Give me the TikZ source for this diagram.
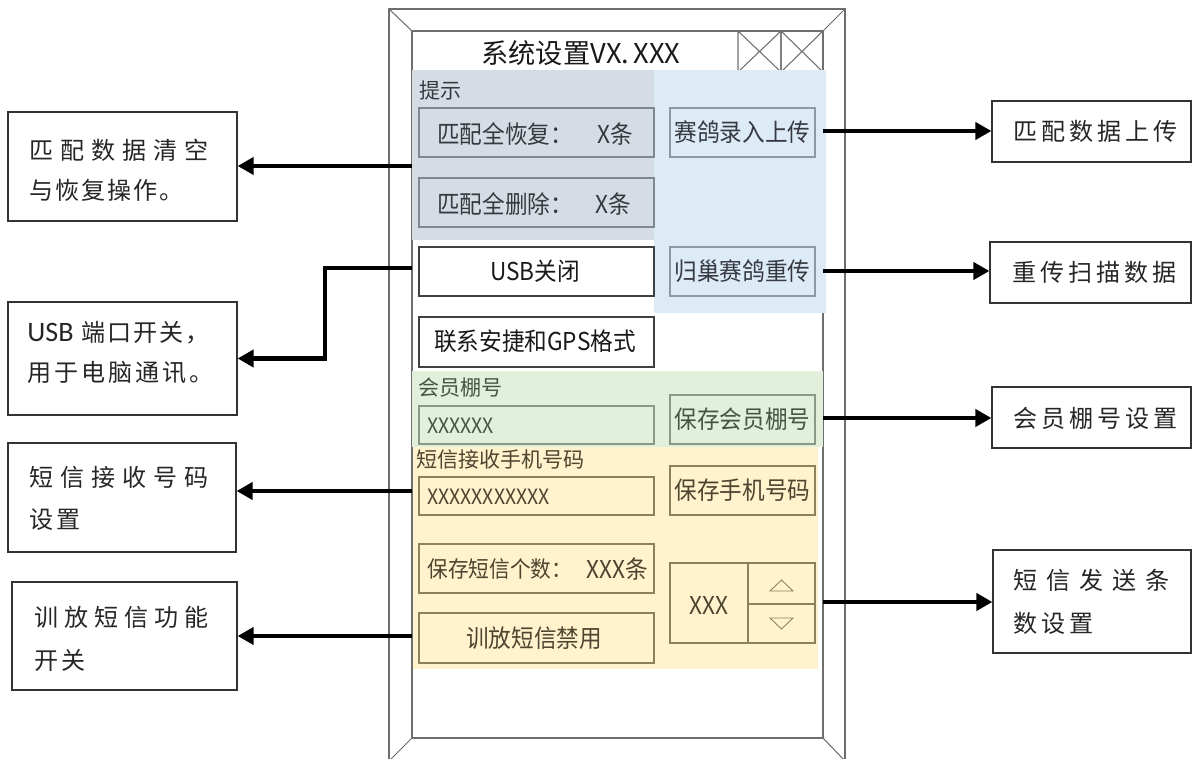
\documentclass[tikz,border=0pt]{standalone}
\usepackage{fontspec}
\setmainfont{Noto Sans CJK SC}
\newfontfamily\uifont{Noto Sans CJK SC}[FakeStretch=0.92]
\newfontfamily\carlito{Carlito}
\usetikzlibrary{arrows.meta}
\newdimen\pxu \pxu=0.02cm
\newcommand\spr[2]{\def\sprgap{#1}\sprloop#2\relax}
\def\sprloop#1{\ifx\relax#1\else#1\kern\sprgap\pxu\expandafter\sprloop\fi}
\newcommand\rbox[6]{\node[#1, minimum width={(#5-#3)*0.02cm}, minimum height={(#6-#4)*0.02cm}] (#2) at ({(#3+#5)/2},{(#4+#6)/2}) {};}
\definecolor{greyreg}{HTML}{D6DCE4}
\definecolor{bluereg}{HTML}{DDEBF7}
\definecolor{greenreg}{HTML}{E2EFDA}
\definecolor{yelreg}{HTML}{FFF2CC}
\definecolor{frameclr}{HTML}{6E6E6E}
\definecolor{greybd}{HTML}{7F8791}
\definecolor{bluebd}{HTML}{8C9AA6}
\definecolor{greenbd}{HTML}{8A9A82}
\definecolor{yelbd}{HTML}{8E805C}
\definecolor{greytx}{HTML}{363A40}
\definecolor{greentx}{HTML}{47543F}
\definecolor{yeltx}{HTML}{4D4530}
\begin{document}
\begin{tikzpicture}[x=0.02cm, y=-0.02cm,
  frm/.style={draw=frameclr, line width=0.6pt},
  lbl/.style={draw=black!80, line width=0.7pt, rectangle, inner sep=0},
  lbltx/.style={inner sep=0, anchor=west, font=\fontsize{13.7pt}{16pt}\selectfont, text=black!85},
  arr/.style={line width=2.3pt, -{Triangle[length=0.32cm,width=0.34cm]}},
  btn/.style={rectangle, inner sep=0, line width=0.6pt, draw=#1},
  btntx/.style={inner sep=0, font=\uifont\fontsize{14pt}{16pt}\selectfont, text=#1},
  uilb/.style={inner sep=0, anchor=west, font=\fontsize{12pt}{14pt}\selectfont, text=#1},
  xtx/.style={inner sep=0, anchor=west, font=\uifont\fontsize{12pt}{14pt}\selectfont, text=#1}
]
\useasboundingbox (0,0) rectangle (1194,759);
% phone frame
\draw[frm] (389,9) rectangle (845,761);
\draw[frm] (412,31) rectangle (823,738);
\draw[frm] (389,9) -- (412,31);
\draw[frm] (845,9) -- (823,31);
\draw[frm] (389,761) -- (412,738);
\draw[frm] (845,761) -- (823,738);
% title bar boxes
\draw[frm] (738,31) rectangle (781,72) (738,31) -- (781,72) (738,72) -- (781,31);
\draw[frm] (781,31) rectangle (823,72) (781,31) -- (823,72) (781,72) -- (823,31);
\node[inner sep=0, font=\fontsize{15.5pt}{18pt}\selectfont, text=black!90] (title) at (581,53) {系统设置VX.\,XXX};
% regions
\fill[greyreg] (412,70) rectangle (654,240);
\fill[bluereg] (654,70) rectangle (826,313);
\fill[greenreg] (412,371) rectangle (823,447);
\fill[yelreg] (413,447) rectangle (818,669);
% grey region
\node[uilb=greytx] (tip) at (419,91) {提示};
\rbox{btn=greybd}{g1}{419}{108}{654}{157}
\rbox{btn=greybd}{g2}{419}{178}{654}{227}
\node[btntx=greytx, anchor=west] (g1a) at (437,134) {匹配全恢复：};
\node[btntx=greytx, anchor=east] (g1b) at (633,134) {X条};
\node[btntx=greytx, anchor=west] (g2a) at (437,204) {匹配全删除：};
\node[btntx=greytx, anchor=east] (g2b) at (631,204) {X条};
% blue region
\rbox{btn=bluebd}{u1}{670}{108}{815}{157}
\rbox{btn=bluebd}{u2}{670}{247}{815}{296}
\node[btntx=greytx] (u1t) at (u1) {赛鸽录入上传};
\node[btntx=greytx] (u2t) at (u2) {归巢赛鸽重传};
% white area
\rbox{btn=black!75, fill=white}{w1}{419}{247}{654}{296}
\rbox{btn=black!75, fill=white}{w2}{419}{317}{654}{367}
\node[btntx=black!90] (w1t) at (535,271) {USB关闭};
\node[btntx=black!90] (w2t) at (535,341) {联系安捷和GPS格式};
% green region
\node[uilb=greentx] (hy) at (418,388) {会员棚号};
\rbox{btn=greenbd}{n1}{419}{406}{654}{444}
\rbox{btn=greenbd}{n2}{670}{395}{815}{444}
\node[xtx=greentx] (n1t) at (427,426) {XXXXXX};
\node[btntx=greentx] (n2t) at (n2) {保存会员棚号};
% yellow region
\node[uilb=yeltx] (dx) at (416,460) {短信接收手机号码};
\rbox{btn=yelbd}{y1}{419}{477}{654}{515}
\rbox{btn=yelbd}{y2}{670}{466}{815}{515}
\rbox{btn=yelbd}{y3}{419}{544}{654}{593}
\rbox{btn=yelbd}{y4}{419}{613}{654}{663}
\rbox{btn=yelbd}{sp}{670}{563}{815}{643}
\node[xtx=yeltx] (y1t) at (427,497) {XXXXXXXXXXX};
\node[btntx=yeltx] (y2t) at (y2) {保存手机号码};
\node[btntx=yeltx, anchor=west, font=\uifont\fontsize{12.8pt}{15pt}\selectfont] (y3a) at (427,569) {保存短信个数：};
\node[btntx=yeltx, anchor=east] (y3b) at (648,569) {XXX条};
\node[btntx=yeltx] (y4t) at (534,638) {训放短信禁用};
\draw[yelbd, line width=0.6pt] (748,563) -- (748,643) (748,604) -- (815,604);
\node[btntx=yeltx] (spt) at (709,605) {XXX};
\draw[yelbd, line width=0.5pt] (770,591) -- (793,591) -- (781.5,580) -- cycle;
\draw[yelbd, line width=0.5pt] (770,618) -- (793,618) -- (781.5,629) -- cycle;
% left labels
\rbox{lbl}{b1}{8}{112}{237}{221}
\rbox{lbl}{b2}{8}{302}{237}{415}
\rbox{lbl}{b3}{8}{443}{236}{552}
\rbox{lbl}{b4}{12}{582}{237}{690}
\node[lbltx] (b1a) at (29,150) {\spr{7}{匹配数据清空}};
\node[lbltx] (b1b) at (29,190) {\spr{2}{与恢复操作。}};
\node[lbltx] (b2a) at (27,333) {{\carlito\fontsize{16pt}{18pt}\selectfont USB}\kern8\pxu\spr{2}{端口开关，}};
\node[lbltx] (b2b) at (27,373) {\spr{3}{用于电脑通讯。}};
\node[lbltx] (b3a) at (29,477) {\spr{7}{短信接收号码}};
\node[lbltx] (b3b) at (29,520) {\spr{3}{设置}};
\node[lbltx] (b4a) at (34,617) {\spr{6}{训放短信功能}};
\node[lbltx] (b4b) at (34,660) {\spr{3}{开关}};
% right labels
\rbox{lbl}{r1}{992}{101}{1191}{162}
\rbox{lbl}{r2}{990}{242}{1191}{303}
\rbox{lbl}{r3}{992}{387}{1191}{448}
\rbox{lbl}{r4}{993}{550}{1191}{653}
\node[lbltx] (r1t) at (1013,131) {\spr{4}{匹配数据上传}};
\node[lbltx] (r2t) at (1012,272) {\spr{4}{重传扫描数据}};
\node[lbltx] (r3t) at (1013,418) {\spr{4}{会员棚号设置}};
\node[lbltx] (r4a) at (1013,580) {\spr{9}{短信发送条}};
\node[lbltx] (r4b) at (1013,623) {\spr{4}{数设置}};
% connectors
\coordinate (la1) at (412,166);
\coordinate (la2) at (412,268);
\coordinate (k2) at (325,268);
\coordinate (la3) at (412,491);
\coordinate (la4) at (412,636);
\draw[arr] (la1) -- (la1 -| b1.east);
\draw[arr] (la2) -- (k2) |- (b2.east);
\draw[arr] (la3) -- (la3 -| b3.east);
\draw[arr] (la4) -- (la4 -| b4.east);
\coordinate (ra1) at (823,131);
\coordinate (ra2) at (823,271);
\coordinate (ra3) at (823,418);
\coordinate (ra4) at (823,602);
\draw[arr] (ra1) -- (ra1 -| r1.west);
\draw[arr] (ra2) -- (ra2 -| r2.west);
\draw[arr] (ra3) -- (ra3 -| r3.west);
\draw[arr] (ra4) -- (ra4 -| r4.west);
\end{tikzpicture}
\end{document}
